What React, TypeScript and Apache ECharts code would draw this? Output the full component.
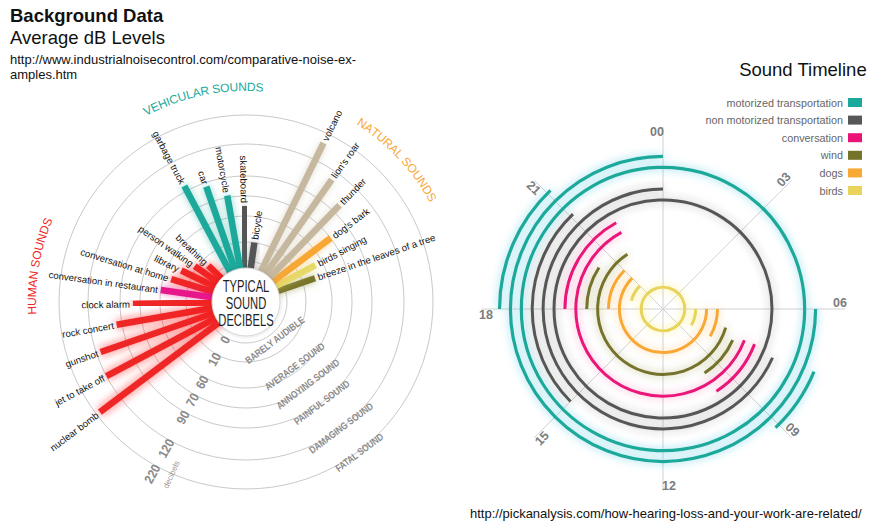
import React, { useEffect, useRef } from 'react';
import * as echarts from 'echarts';

const FONT = '"Liberation Sans", Arial, sans-serif';

// ---------- Left chart: typical sound decibels ----------
const NATURAL_SOUNDS = ['breeze in the leaves of a tree', 'birds singing', "dog's bark", 'thunder', "lion's roar", 'volcano'];
const NATURAL_DB = [35, 46, 70, 98, 112, 185];
const NATURAL_COLORS = ['#77752b', '#e6da6a', '#f8a733', '#c5b89f', '#c5b89f', '#c5b89f'];

const VEHICULAR_SOUNDS = ['bicycle', 'skateboard', 'motorcycle', 'car', 'garbage truck'];
const VEHICULAR_DB = [10, 65, 72, 86, 95];
const VEHICULAR_COLORS = ['#555555', '#555555', '#1ba99b', '#1ba99b', '#1ba99b'];

const HUMAN_SOUNDS = ['breathing', 'person walking', 'library', 'conversation at home', 'conversation in restaurant', 'clock alarm', 'rock concert', 'gunshot', 'jet to take off', 'nuclear bomb'];
const HUMAN_DB = [6, 15, 33, 45, 60, 77, 95, 116, 120, 206];
const HUMAN_COLORS = ['#ef2626', '#ef2626', '#ef2626', '#ef2626', '#e8198b', '#ef2626', '#ef2626', '#ef2626', '#ef2626', '#ef2626'];

const DB_TICKS = [0, 10, 60, 70, 90, 120, 220];
const LEVEL_NAMES = ['BARELY AUDIBLE', 'AVERAGE SOUND', 'ANNOYING SOUND', 'PAINFUL SOUND', 'DAMAGING SOUND', 'FATAL SOUND'];
const GROUP_TITLES = ['NATURAL SOUNDS', 'VEHICULAR SOUNDS', 'HUMAN SOUNDS'];
const GROUP_COLORS = ['#f8a733', '#1ba99b', '#ef2626'];

// radial scale of the left chart (axis units at each decibel ring)
const RING_RADIUS = [41, 60, 86, 106, 126, 158, 187];
function dbToR(db: number): number {
  for (let i = 1; i < DB_TICKS.length; i++) {
    if (db <= DB_TICKS[i]) {
      const t = (db - DB_TICKS[i - 1]) / (DB_TICKS[i] - DB_TICKS[i - 1]);
      return RING_RADIUS[i - 1] + t * (RING_RADIUS[i] - RING_RADIUS[i - 1]);
    }
  }
  return RING_RADIUS[RING_RADIUS.length - 1];
}
const LEVEL_INSET = [12, 5, 3, 0, 0, -1.5];

// ---------- Right chart: sound timeline ----------
const HOUR_LABELS = ['00', '03', '06', '09', '12', '15', '18', '21'];
const HOUR_VALUES = [0, 3, 6, 9, 12, 15, 18, 21];
const TIMELINE_NAMES = ['motorized transportation', 'non motorized transportation', 'conversation', 'wind', 'dogs', 'birds'];
const TIMELINE_COLORS = ['#1aa99a', '#575757', '#ea1479', '#757229', '#f8a834', '#e8d45c'];
const TIMELINE_GLOWS = ['rgba(80,200,225,0.75)', 'rgba(60,60,60,0.35)', 'rgba(240,90,160,0.55)', 'rgba(110,110,40,0.45)', 'rgba(250,170,60,0.55)', 'rgba(245,230,80,0.7)'];
// [lane, start hour, end hour] (clockwise)
const MOTORIZED_ARCS = [[13, 18, 21.1], [13, 7.5, 9.1], [12, 6, 24], [11, 0, 24]];
const NON_MOTORIZED_ARCS = [[10, 15, 21.1], [9, 7.6, 24], [8, 0, 24]];
const CONVERSATION_ARCS = [[7, 18, 22.1], [7, 7.4, 9.8], [6, 7.4, 22.1]];
const WIND_ARCS = [[5, 18, 20.2], [5, 7.6, 9.8], [4, 7.1, 21.8]];
const DOGS_ARCS = [[3, 18, 21], [3, 6, 8], [2, 6, 21]];
const BIRDS_ARCS = [[0, 0, 24], [1, 6, 8], [1, 19, 21]];
const TIMELINE_ARCS = [MOTORIZED_ARCS, NON_MOTORIZED_ARCS, CONVERSATION_ARCS, WIND_ARCS, DOGS_ARCS, BIRDS_ARCS];

type Bar = { name: string; db: number; color: string; slot: number };
const BARS: Bar[] = [];
[[NATURAL_SOUNDS, NATURAL_DB, NATURAL_COLORS], [VEHICULAR_SOUNDS, VEHICULAR_DB, VEHICULAR_COLORS], [HUMAN_SOUNDS, HUMAN_DB, HUMAN_COLORS]].forEach((g: any, gi) => {
  const offset = gi === 0 ? 0 : gi === 1 ? NATURAL_SOUNDS.length + 1 : NATURAL_SOUNDS.length + VEHICULAR_SOUNDS.length + 2;
  g[0].forEach((name: string, i: number) => BARS.push({ name, db: g[1][i], color: g[2][i], slot: offset + i }));
});

let measureCtx: CanvasRenderingContext2D | null = null;
function measure(text: string, font: string): number {
  if (!measureCtx) measureCtx = document.createElement('canvas').getContext('2d');
  if (!measureCtx) return text.length * 7;
  measureCtx.font = font;
  return measureCtx.measureText(text).width;
}

function hexToGlow(c: string, a: number) {
  const n = parseInt(c.slice(1), 16);
  return `rgba(${(n >> 16) & 255},${(n >> 8) & 255},${n & 255},${a})`;
}

export default function App() {
  const ref = useRef<HTMLDivElement>(null);
  useEffect(() => {
    document.body.style.margin = '0';
    const chart = echarts.init(ref.current!, null, { renderer: 'svg' });

    const ringSeries = {
      type: 'custom', coordinateSystem: 'polar', polarIndex: 0, z: 1, silent: true,
      data: DB_TICKS.map((d) => [dbToR(d), 0]),
      renderItem: (params: any, api: any) => {
        const cs = params.coordSys;
        const p = api.coord([api.value(0), 0]);
        const r = Math.hypot(p[0] - cs.cx, p[1] - cs.cy);
        return { type: 'circle', shape: { cx: cs.cx, cy: cs.cy, r }, style: { fill: 'none', stroke: '#c9c9c9', lineWidth: 1 } };
      },
    };

    const barSeries = {
      type: 'custom', coordinateSystem: 'polar', polarIndex: 0, z: 2, silent: true,
      data: BARS.map((b) => [dbToR(b.db), b.slot]),
      renderItem: (params: any, api: any) => {
        const b = BARS[params.dataIndex];
        const cs = params.coordSys;
        const r = api.value(0);
        const s = api.value(1);
        const p0 = api.coord([20, s]);
        const p1 = api.coord([r, s]);
        const pl = api.coord([r + 3, s]);
        const ang = Math.atan2(cs.cy - p1[1], p1[0] - cs.cx);
        const left = Math.cos(ang) < -0.01;
        const glow = b.color === '#ef2626' ? 'rgba(255,30,30,0.7)' : hexToGlow(b.color, 0.5);
        return {
          type: 'group',
          children: [
            { type: 'line', shape: { x1: p0[0], y1: p0[1], x2: p1[0], y2: p1[1] }, style: { stroke: b.color, lineWidth: 6.5, shadowBlur: b.color === '#ef2626' ? 9 : 7, shadowColor: glow } },
            { type: 'text', x: pl[0], y: pl[1], rotation: left ? ang - Math.PI : ang, style: { text: b.name, align: left ? 'right' : 'left', verticalAlign: 'middle', fontSize: 9.6, fontFamily: FONT, fill: '#111' } },
          ],
        };
      },
    };

    const centerSeries = {
      type: 'custom', coordinateSystem: 'polar', polarIndex: 0, z: 3, silent: true,
      data: [[34, 0]],
      renderItem: (params: any, api: any) => {
        const cs = params.coordSys;
        const p = api.coord([api.value(0), 0]);
        const r = Math.hypot(p[0] - cs.cx, p[1] - cs.cy);
        const lines = ['TYPICAL', 'SOUND', 'DECIBELS'];
        return {
          type: 'group',
          children: [
            { type: 'circle', shape: { cx: cs.cx, cy: cs.cy, r }, style: { fill: '#fff', stroke: '#d5d5d5', lineWidth: 1, shadowBlur: 4, shadowColor: 'rgba(0,0,0,0.15)' } },
            ...lines.map((t, k) => ({ type: 'text', x: cs.cx, y: cs.cy + 1 + (k - 1) * 17, scaleX: 0.7, style: { text: t, align: 'center', verticalAlign: 'middle', fontSize: 16, fontFamily: FONT, fill: '#1e1e1e' } })),
          ],
        };
      },
    };

    // decibel tick labels along a radial line
    const tickSeries = {
      type: 'custom', coordinateSystem: 'polar', polarIndex: 0, z: 4, silent: true,
      data: DB_TICKS.map((d) => [dbToR(d) - 1, 24.72]),
      renderItem: (params: any, api: any) => {
        const cs = params.coordSys;
        const p = api.coord([api.value(0), api.value(1)]);
        const ang = Math.atan2(cs.cy - p[1], p[0] - cs.cx);
        const children: any[] = [
          { type: 'text', x: p[0], y: p[1], rotation: ang + Math.PI, scaleX: 0.9, style: { text: String(DB_TICKS[params.dataIndex]), align: 'right', verticalAlign: 'middle', fontSize: 13, fontWeight: 'bold', fontFamily: FONT, fill: '#8a8a8a' } },
        ];
        if (params.dataIndex === DB_TICKS.length - 1) {
          const q = api.coord([api.value(0) + 2, 25.3]);
          children.push({ type: 'text', x: q[0], y: q[1], rotation: ang + Math.PI + 0.08, style: { text: 'decibels', align: 'center', verticalAlign: 'middle', fontSize: 8, fontFamily: FONT, fill: '#999' } });
        }
        return { type: 'group', children };
      },
    };

    const levelSeries = {
      type: 'custom', coordinateSystem: 'polar', polarIndex: 0, z: 4, silent: true,
      data: LEVEL_NAMES.map((_, i) => [dbToR(DB_TICKS[i + 1]) - LEVEL_INSET[i], 32]),
      renderItem: (params: any, api: any) => {
        const cs = params.coordSys;
        const p = api.coord([api.value(0), api.value(1)]);
        const ang = Math.atan2(cs.cy - p[1], p[0] - cs.cx);
        return { type: 'text', x: p[0], y: p[1], rotation: ang + Math.PI / 2, scaleX: 0.82, style: { text: LEVEL_NAMES[params.dataIndex], align: 'center', verticalAlign: 'middle', fontSize: 10, fontWeight: 'bold', fontFamily: FONT, fill: '#8c8c8c' } };
      },
    };

    const groupSeries = {
      type: 'custom', coordinateSystem: 'polar', polarIndex: 0, z: 4, silent: true,
      data: [[213, 2.7], [215, 9.2], [214, 16.8]],
      renderItem: (params: any, api: any) => {
        const cs = params.coordSys;
        const pc = api.coord([api.value(0), api.value(1)]);
        const R = Math.hypot(pc[0] - cs.cx, pc[1] - cs.cy);
        const aC = Math.atan2(cs.cy - pc[1], pc[0] - cs.cx);
        const font = `12px ${FONT}`;
        const text = GROUP_TITLES[params.dataIndex];
        const chars = Array.from(text);
        const widths = chars.map((c) => measure(c, font));
        const total = widths.reduce((a, b) => a + b, 0);
        let a = aC + total / 2 / R;
        const children: any[] = [];
        chars.forEach((ch, k) => {
          const am = a - widths[k] / 2 / R;
          children.push({ type: 'text', x: cs.cx + R * Math.cos(am), y: cs.cy - R * Math.sin(am), rotation: am - Math.PI / 2, style: { text: ch, align: 'center', verticalAlign: 'middle', fontSize: 12, fontFamily: FONT, fill: GROUP_COLORS[params.dataIndex] } });
          a -= widths[k] / R;
        });
        return { type: 'group', children };
      },
    };

    const arcSeries = TIMELINE_NAMES.map((name, si) => ({
      name, type: 'custom', coordinateSystem: 'polar', polarIndex: 1, z: 3, silent: true,
      itemStyle: { color: TIMELINE_COLORS[si] },
      data: TIMELINE_ARCS[si],
      renderItem: (params: any, api: any) => {
        const cs = params.coordSys;
        const lane = api.value(0), h1 = api.value(1), h2 = api.value(2);
        const p1 = api.coord([lane, h1]);
        const r = Math.hypot(p1[0] - cs.cx, p1[1] - cs.cy);
        const style = { fill: 'none', stroke: TIMELINE_COLORS[si], lineWidth: si === 0 ? 3.2 : 3, shadowBlur: 9, shadowColor: TIMELINE_GLOWS[si] };
        if (h2 - h1 >= 24) return { type: 'circle', shape: { cx: cs.cx, cy: cs.cy, r }, style };
        const p2 = api.coord([lane, h2]);
        const a1 = Math.atan2(p1[1] - cs.cy, p1[0] - cs.cx);
        let a2 = Math.atan2(p2[1] - cs.cy, p2[0] - cs.cx);
        if (a2 <= a1) a2 += Math.PI * 2;
        return { type: 'arc', shape: { cx: cs.cx, cy: cs.cy, r, startAngle: a1, endAngle: a2, clockwise: true }, style };
      },
    }));

    const hourSeries = {
      type: 'custom', coordinateSystem: 'polar', polarIndex: 1, z: 5, silent: true,
      data: HOUR_VALUES.map((h) => [14.25, h - 0.13]),
      renderItem: (params: any, api: any) => {
        const cs = params.coordSys;
        const p = api.coord([api.value(0), api.value(1)]);
        const h = HOUR_VALUES[params.dataIndex];
        let rot = 0;
        if (h % 6 === 3) {
          const ang = Math.atan2(cs.cy - p[1], p[0] - cs.cx);
          rot = ang;
          if (rot > Math.PI / 2) rot -= Math.PI;
          if (rot < -Math.PI / 2) rot += Math.PI;
        }
        return { type: 'text', x: p[0], y: p[1], rotation: rot, style: { text: HOUR_LABELS[params.dataIndex], align: 'center', verticalAlign: 'middle', fontSize: 12.5, fontWeight: 'bold', fontFamily: FONT, fill: '#7c7c7c' } };
      },
    };

    chart.setOption({
      animation: false,
      title: [
        { text: 'Background Data', left: 10, top: 6, padding: 0, textStyle: { fontSize: 18.5, fontWeight: 'bold', color: '#111', fontFamily: FONT } },
        { text: 'Average dB Levels', left: 10, top: 28, padding: 0, textStyle: { fontSize: 18.5, fontWeight: 'normal', color: '#111', fontFamily: FONT } },
        { text: 'http://www.industrialnoisecontrol.com/comparative-noise-ex-\namples.htm', left: 10, top: 52, padding: 0, textStyle: { fontSize: 13, lineHeight: 15, fontWeight: 'normal', color: '#111', fontFamily: FONT } },
        { text: 'Sound Timeline', right: 2, top: 60, padding: 0, textStyle: { fontSize: 18.5, fontWeight: 'normal', color: '#111', fontFamily: FONT } },
        { text: 'http://pickanalysis.com/how-hearing-loss-and-your-work-are-related/', left: 470, top: 507, padding: 0, textStyle: { fontSize: 13, fontWeight: 'normal', color: '#111', fontFamily: FONT } },
      ],
      legend: {
        data: TIMELINE_NAMES.map((n, i) => ({ name: n, itemStyle: { color: TIMELINE_COLORS[i] } })),
        orient: 'vertical', right: 7, top: 97, align: 'right', icon: 'rect', itemWidth: 14, itemHeight: 9, itemGap: 6.6, padding: 0,
        selectedMode: false,
        textStyle: { fontSize: 10.8, color: '#666', fontFamily: FONT },
      },
      polar: [
        { center: [246, 302], radius: 200 },
        { center: [663, 309], radius: 182 },
      ],
      angleAxis: [
        { polarIndex: 0, type: 'value', min: 0, max: 40, startAngle: 19, clockwise: false, show: false, splitLine: { show: false } },
        { polarIndex: 1, type: 'value', min: 0, max: 24, interval: 3, startAngle: 90, clockwise: true, axisLine: { show: false }, axisTick: { show: false }, axisLabel: { show: false }, splitLine: { show: true, lineStyle: { color: '#d2d2d2', width: 1 } } },
      ],
      radiusAxis: [
        { polarIndex: 0, type: 'value', min: 0, max: 200, show: false, splitLine: { show: false } },
        { polarIndex: 1, type: 'value', min: -2, max: 14.7, axisLine: { show: false }, axisTick: { show: false }, axisLabel: { show: false }, splitLine: { show: false } },
      ],
      series: [ringSeries, barSeries, centerSeries, tickSeries, levelSeries, groupSeries, ...arcSeries, hourSeries],
    });
    return () => chart.dispose();
  }, []);
  return <div ref={ref} style={{ position: 'absolute', left: 0, top: 0, width: 869, height: 523 }} />;
}
